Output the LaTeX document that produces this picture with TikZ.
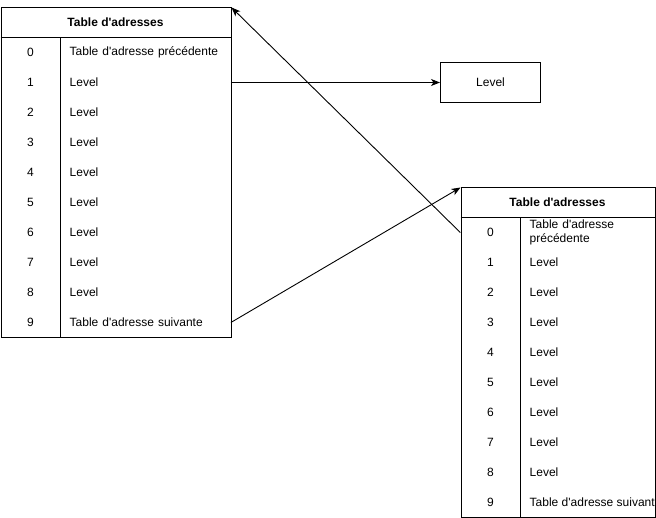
\documentclass[tikz,border=0pt]{standalone}
\usepackage{fontspec}
\newfontfamily\lsans{Liberation Sans}
\usetikzlibrary{arrows.meta}
\begin{document}
\begin{tikzpicture}[x=1pt,y=-1pt,
  every node/.style={font=\lsans\fontsize{12}{14}\selectfont, inner sep=0pt},
  frame/.style={draw, line width=1pt, anchor=north west, minimum height=#1},
  hdr/.style={font=\lsans\fontsize{12}{14}\selectfont\bfseries},
  numcell/.style={minimum height=30, minimum width=60},
  txtcell/.style={minimum height=30, anchor=west, align=left, inner xsep=9pt, text width=#1},
  conn/.style={line width=0.9pt, -{Stealth[length=9pt,width=7pt,inset=2.5pt]}}]
\clip (0,0) rectangle (656,518);
\fill[white] (0,0) rectangle (656,518);

% Left table
\node[frame=330, minimum width=230] (LT) at (0.5,7.5) {};
\draw[line width=1pt] (0.5,37.5) -- (230.5,37.5);
\draw[line width=1pt] (60.5,37.5) -- (60.5,337.5);
\node[hdr] (LH) at (115.5,22.5) {Table d'adresses};
\foreach \i/\t in {0/Table d'adresse précédente,1/Level,2/Level,3/Level,4/Level,5/Level,6/Level,7/Level,8/Level,9/Table d'adresse suivante}{
  \node[numcell] (LN\i) at (30.5,{52.5+30*\i}) {\i};
  \node[txtcell=152] (LR\i) at (60.5,{52.5+30*\i}) {\t};
}

% Level box
\node[draw, line width=1pt, minimum width=100, minimum height=40] (LV) at (490.5,82.5) {Level};

% Right table
\node[frame=329, minimum width=194.5] (RT) at (460.5,187.5) {};
\draw[line width=1pt] (460.5,217.5) -- (655,217.5);
\draw[line width=1pt] (520.5,217.5) -- (520.5,516.5);
\node[hdr] (RH) at (557.5,202.5) {Table d'adresses};
\node[numcell] (RN0) at (490.5,232.5) {0};
\node[txtcell=118] (RR0) at (520.5,232.5) {Table d'adresse\\précédente};
\foreach \i in {1,...,8}{
  \node[numcell] (RN\i) at (490.5,{232.5+30*\i}) {\i};
  \node[txtcell=118] (RR\i) at (520.5,{232.5+30*\i}) {Level};
}
\node[numcell] (RN9) at (490.5,502.5) {9};
\begin{scope}
  \clip (521,488) rectangle (654.5,516);
  \node[anchor=west] (RR9) at (529.5,502.5) {Table d'adresse suivante};
\end{scope}

% Connectors
\draw[conn] (LR1.east) -- (LV.west);
\draw[conn] (LR9.east) -- (RT.north west);
\draw[conn] (RN0.west) -- (LT.north east);
\end{tikzpicture}
\end{document}
